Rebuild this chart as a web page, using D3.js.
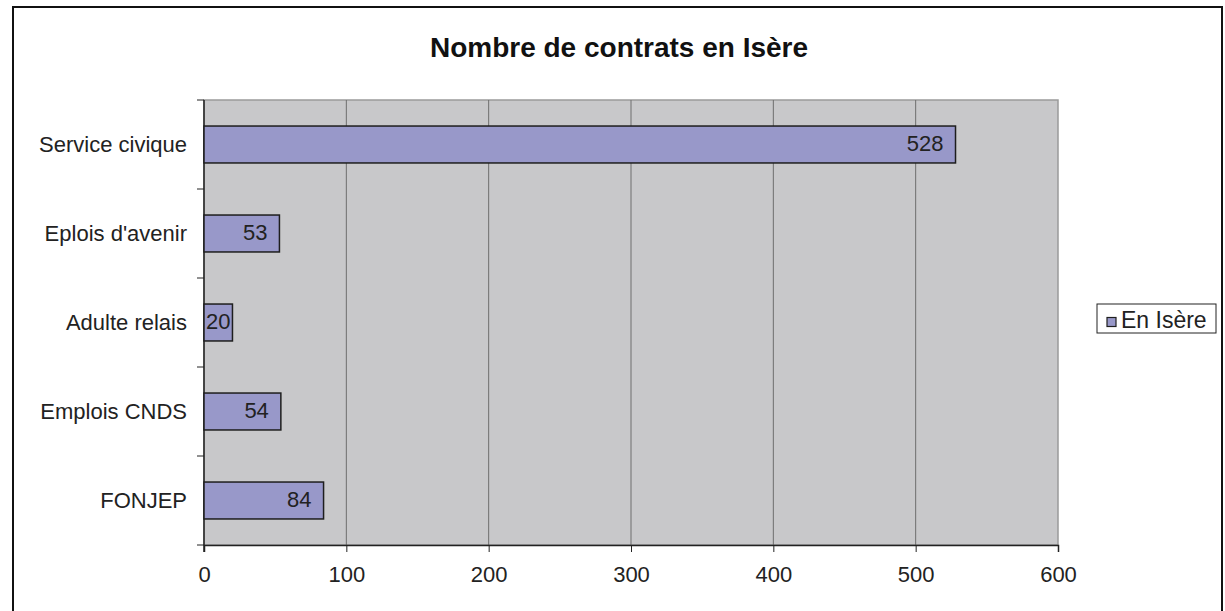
<!DOCTYPE html>
<html>
<head>
<meta charset="utf-8">
<script src="https://cdn.jsdelivr.net/npm/d3@7"></script>
<style>
  body { margin: 0; background: #fff; }
  svg { display: block; font-family: "Liberation Sans", Arial, sans-serif; }
</style>
</head>
<body>
<div id="chart"></div>
<script>
// data
var categories = ["Service civique", "Eplois d'avenir", "Adulte relais", "Emplois CNDS", "FONJEP"];
var values = [528, 53, 20, 54, 84];
var xTicks = [0, 100, 200, 300, 400, 500, 600];
var seriesName = "En Isère";
var title = "Nombre de contrats en Isère";

var W = 1225, H = 611;
var margin = { top: 100, right: 167, bottom: 66, left: 204 };
var width = W - margin.left - margin.right,
    height = H - margin.top - margin.bottom;

var svg = d3.select("#chart").append("svg")
    .attr("width", W)
    .attr("height", H);

// outer frame (bottom edge runs off the picture)
svg.append("rect")
    .attr("x", 13).attr("y", 7)
    .attr("width", 1209).attr("height", 620)
    .attr("fill", "#fff")
    .attr("stroke", "#111")
    .attr("stroke-width", 2);

svg.append("text")
    .attr("x", 619).attr("y", 57)
    .attr("text-anchor", "middle")
    .style("font-size", "28px")
    .style("font-weight", "bold")
    .attr("fill", "#111")
    .text(title);

var g = svg.append("g")
    .attr("transform", "translate(" + margin.left + "," + margin.top + ")");

var x = d3.scaleLinear()
    .domain([0, 600])
    .range([0, width]);

var y = d3.scaleBand()
    .domain(categories)
    .range([0, height])
    .paddingInner(0.585)
    .paddingOuter(0.2925);

// plot background
g.append("rect")
    .attr("width", width).attr("height", height)
    .attr("fill", "#c8c8ca")
    .attr("stroke", "#9a9a9a")
    .attr("stroke-width", 1.5);

// vertical grid lines
g.append("g")
    .selectAll("line")
    .data(xTicks.slice(1, -1))
    .enter().append("line")
    .attr("x1", function (d) { return x(d); })
    .attr("x2", function (d) { return x(d); })
    .attr("y1", 0).attr("y2", height)
    .attr("stroke", "#6e6e6e")
    .attr("stroke-width", 1);

// x axis
var xAxis = g.append("g")
    .attr("transform", "translate(0," + height + ")")
    .call(d3.axisBottom(x).tickValues(xTicks).tickSize(7).tickPadding(14));
xAxis.select(".domain").attr("stroke", "#222").attr("stroke-width", 1.5);
xAxis.selectAll(".tick line").attr("stroke", "#222");
xAxis.selectAll("text").style("font-size", "22px").attr("fill", "#222");

// y axis: ticks on the band edges, labels on the band centres
var yEdges = categories.map(function (c) { return y(c) - y.step() * y.paddingInner() / 2; });
yEdges.push(height);
var yAxis = g.append("g");
yAxis.append("line")
    .attr("x1", 0).attr("x2", 0)
    .attr("y1", 0).attr("y2", height + 7)
    .attr("stroke", "#222").attr("stroke-width", 1.5);
yAxis.selectAll(".edge")
    .data(yEdges)
    .enter().append("line")
    .attr("class", "edge")
    .attr("x1", -7).attr("x2", 0)
    .attr("y1", function (d) { return d; })
    .attr("y2", function (d) { return d; })
    .attr("stroke", "#222");
yAxis.selectAll(".cat")
    .data(categories)
    .enter().append("text")
    .attr("class", "cat")
    .attr("x", -17)
    .attr("y", function (d) { return y(d) + y.bandwidth() / 2; })
    .attr("dy", "0.35em")
    .attr("text-anchor", "end")
    .style("font-size", "22px")
    .attr("fill", "#222")
    .text(function (d) { return d; });

// bars
var rows = categories.map(function (c, i) { return { cat: c, value: values[i] }; });
g.selectAll(".bar")
    .data(rows)
    .enter().append("rect")
    .attr("class", "bar")
    .attr("x", 0)
    .attr("y", function (d) { return y(d.cat); })
    .attr("width", function (d) { return x(d.value); })
    .attr("height", y.bandwidth())
    .attr("fill", "#9898c9")
    .attr("stroke", "#1e1e1e")
    .attr("stroke-width", 1.5);

// value labels, inside end (centred when they do not fit)
g.selectAll(".val")
    .data(rows)
    .enter().append("text")
    .attr("class", "val")
    .attr("y", function (d) { return y(d.cat) + y.bandwidth() / 2; })
    .attr("dy", "0.3em")
    .style("font-size", "22px")
    .attr("fill", "#222")
    .text(function (d) { return d.value; })
    .each(function (d) {
        var w = this.getComputedTextLength(), bw = x(d.value);
        var t = d3.select(this);
        if (w + 14 > bw) {
            t.attr("x", bw / 2).attr("text-anchor", "middle");
        } else {
            t.attr("x", bw - 12).attr("text-anchor", "end");
        }
    });

// legend
var lg = svg.append("g").attr("transform", "translate(1097,304)");
lg.append("rect")
    .attr("width", 119).attr("height", 29)
    .attr("fill", "#fff")
    .attr("stroke", "#222").attr("stroke-width", 1);
lg.append("rect")
    .attr("x", 10).attr("y", 13.5)
    .attr("width", 9).attr("height", 9)
    .attr("fill", "#9898c9")
    .attr("stroke", "#1e1e1e").attr("stroke-width", 1.2);
lg.append("text")
    .attr("x", 24).attr("y", 24)
    .style("font-size", "23px")
    .attr("fill", "#222")
    .text(seriesName);
</script>
</body>
</html>
